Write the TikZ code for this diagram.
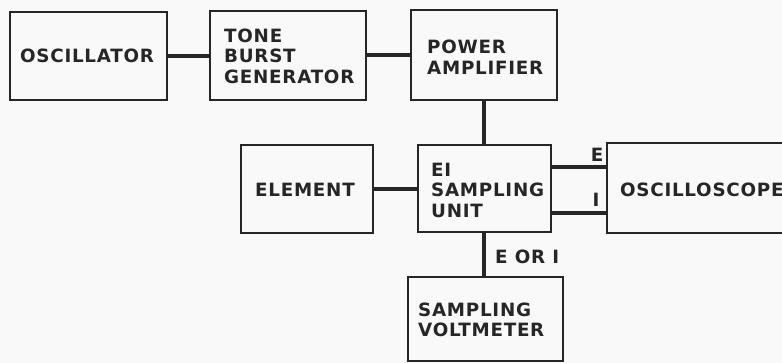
\documentclass[tikz,border=0pt]{standalone}
\usepackage{fontspec}
\setmainfont{DejaVu Sans}[BoldFont={DejaVu Sans Bold},LetterSpace=4]
\begin{document}
\begin{tikzpicture}[x=1pt,y=-1pt,
  blk/.style={draw=black!85,line width=1.1pt,rectangle,inner sep=0pt},
  lbl/.style={anchor=west,align=left,inner sep=0pt,font=\fontsize{18.3}{20.5}\selectfont\bfseries,text=black!85},
  wire/.style={line width=4.8pt,draw=black!85},
  tag/.style={inner sep=0pt,font=\fontsize{18.3}{20.5}\selectfont\bfseries,text=black!85}]
\useasboundingbox[fill=white!95!gray] (0,0) rectangle (782,363);
% boxes
\node[blk,minimum width=157pt,minimum height=88pt] (osc) at (88.5,56) {};
\node[blk,minimum width=156pt,minimum height=89pt] (tbg) at (288,55.5) {};
\node[blk,minimum width=146pt,minimum height=90pt] (pa) at (484,55) {};
\node[blk,minimum width=132pt,minimum height=88pt] (el) at (307,189) {};
\node[blk,minimum width=133pt,minimum height=87pt] (ei) at (484.5,188.5) {};
\node[blk,minimum width=243pt,minimum height=90pt] (osco) at (728.5,188) {};
\node[blk,minimum width=155pt,minimum height=84pt] (sv) at (485.5,319) {};
% texts
\node[lbl] (toscl) at (20,56) {OSCILLATOR};
\node[lbl] (ttbg) at (224,56) {TONE\\BURST\\GENERATOR};
\node[lbl] (tpa) at (427,57) {POWER\\AMPLIFIER};
\node[lbl] (tel) at (255,190) {ELEMENT};
\node[lbl] (tei) at (431,190) {EI\\SAMPLING\\UNIT};
\node[lbl] (tosco) at (620,190) {OSCILLOSCOPE};
\node[lbl] (tsv) at (418,320) {SAMPLING\\VOLTMETER};
% connectors
\draw[wire] (osc.east |- 0,56) -- (tbg.west |- 0,56);
\draw[wire] (tbg.east |- 0,55) -- (pa.west |- 0,55);
\draw[wire] (pa.south) -- (ei.north -| pa.south);
\draw[wire] (el.east |- 0,189) -- (ei.west |- 0,189);
\draw[wire] (ei.east |- 0,167) -- (osco.west |- 0,167);
\draw[wire] (ei.east |- 0,213) -- (osco.west |- 0,213);
\draw[wire] (ei.south -| pa.south) -- (sv.north -| pa.south);
% labels
\node[tag] (te) at (597,155) {E};
\node[tag] (ti) at (596,200) {I};
\node[tag,anchor=west] (teori) at (495,257) {E OR I};
\end{tikzpicture}
\end{document}
